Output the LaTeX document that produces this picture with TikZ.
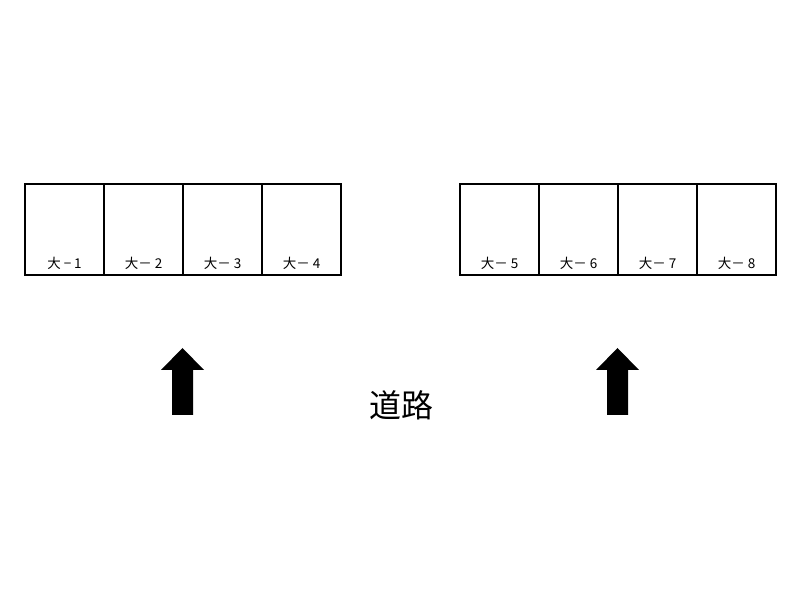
\documentclass[tikz,border=0pt]{standalone}
\usepackage{fontspec}
\setmainfont{Noto Sans CJK JP}
\usetikzlibrary{positioning}

\begin{document}
\begin{tikzpicture}[x=1pt,y=1pt,
						space/.style={draw=black,line width=1.2pt,minimum width=79pt,minimum height=91pt,inner sep=0pt,outer sep=0pt},
						tag/.style={font=\fontsize{13.5}{13.5}\selectfont,anchor=south,inner sep=3pt,yshift=2pt}]
		\useasboundingbox (0,0) rectangle (800,600);

		\node[space,anchor=north west,label={[tag]south:大\hspace{3pt}−\hspace{3pt}1}]	at (25,416)	(s1)	{};
		\node[space,right=0pt of s1,label={[tag]south:大－\hspace{3pt}2}]			(s2)	{};
		\node[space,right=0pt of s2,label={[tag]south:大－\hspace{3pt}3}]			(s3)	{};
		\node[space,right=0pt of s3,label={[tag]south:大－\hspace{3pt}4}]			(s4)	{};
		\node[space,anchor=north west,label={[tag]south:大－\hspace{3pt}5}]	at (460,416)	(s5)	{};
		\node[space,right=0pt of s5,label={[tag]south:大－\hspace{3pt}6}]			(s6)	{};
		\node[space,right=0pt of s6,label={[tag]south:大－\hspace{3pt}7}]			(s7)	{};
		\node[space,right=0pt of s7,label={[tag]south:大－\hspace{3pt}8}]			(s8)	{};

		\coordinate (a1) at (182.5,185);
		\coordinate (a2) at (617.5,185);
		\fill (a1) ++(-10.5,0) -- ++(0,45) -- ++(-11,0) -- ++(21.5,22) -- ++(21.5,-22) -- ++(-11,0) -- ++(0,-45) -- cycle;
		\fill (a2) ++(-10.5,0) -- ++(0,45) -- ++(-11,0) -- ++(21.5,22) -- ++(21.5,-22) -- ++(-11,0) -- ++(0,-45) -- cycle;

		\node[font=\fontsize{32}{32}\selectfont,inner sep=0pt]	at (401,195)	(road)	{道路};
	\end{tikzpicture}
\end{document}
